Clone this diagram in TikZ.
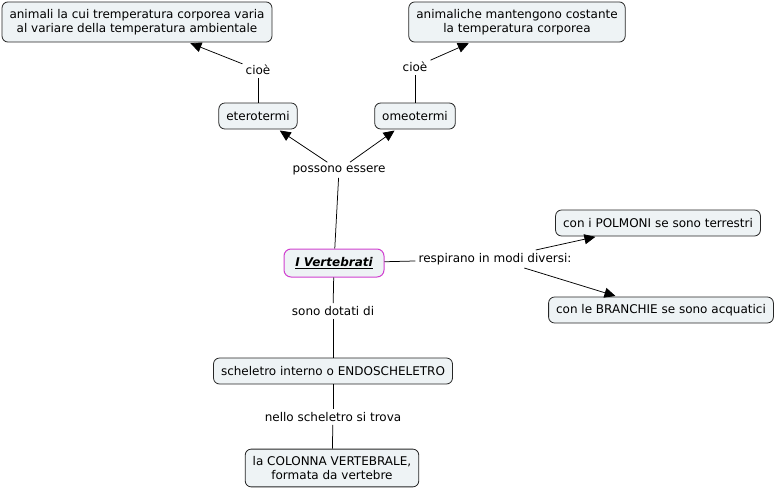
\documentclass[tikz,border=0pt]{standalone}
\usepackage{fontspec}
\setmainfont{DejaVu Sans}
\usepackage{tikz}
\usetikzlibrary{arrows.meta,positioning,calc}
\definecolor{conceptfill}{RGB}{238,243,245}
\definecolor{rootline}{RGB}{208,64,208}

\begin{document}
\begin{tikzpicture}
          [x=1pt,y=-1pt,
           every node/.style={font=\fontsize{12}{14.5}\selectfont,align=center},
           concept/.style={draw=black!85,fill=conceptfill,rounded corners=6pt,line width=0.8pt,
                           inner xsep=7.5pt,inner ysep=7pt,minimum height=26pt},
           rootconcept/.style={concept,draw=rootline,line width=1pt,minimum width=100pt,minimum height=28pt,rounded corners=7pt},
           linkword/.style={inner sep=3pt},
           link/.style={line width=0.75pt},
           arrowlink/.style={link,-{Triangle[length=11pt,width=10pt]},shorten >=2pt}]
          \useasboundingbox (0,0) rectangle (777,490);
          \node[concept] (warm) at (137,22)  {animali la cui tremperatura corporea varia\\al variare della temperatura ambientale};
          \node[concept] (cold) at (517,22)  {animaliche mantengono costante\\la temperatura corporea};
          \node[concept] (etero) at (258,116) {eterotermi};
          \node[concept] (omeo) at (415,116)  {omeotermi};
          \node[rootconcept] (vert) at (334,263) {\textbf{\textit{\underline{I Vertebrati}}}};
          \node[concept] (polm) at (658,223)  {con i POLMONI se sono terrestri};
          \node[concept] (bran) at (661,310)  {con le BRANCHIE se sono acquatici};
          \node[concept] (schel) at (333,371) {scheletro interno o ENDOSCHELETRO};
          \node[concept] (colon) at (332,468) {la COLONNA VERTEBRALE,\\formata da vertebre};

          \node[linkword] (cioeA) at (258,70)  {cioè};
          \node[linkword] (cioeB) at (415,67)  {cioè};
          \node[linkword] (posso) at (339,170) {possono essere};
          \node[linkword] (respi) at (495,259) {respirano in modi diversi:};
          \node[linkword] (dotat) at (333,311) {sono dotati di};
          \node[linkword] (trova) at (333,417) {nello scheletro si trova};

          \foreach \from/\to in {etero/cioeA,omeo/cioeB,vert/posso,vert/respi,vert/dotat,dotat/schel,schel/trova,trova/colon}
            \draw[link] (\from) -- (\to);
          \foreach \from/\to in {cioeA/warm,cioeB/cold,posso/etero,posso/omeo,respi/polm,respi/bran}
            \draw[arrowlink] (\from) -- (\to);
        \end{tikzpicture}
\end{document}
